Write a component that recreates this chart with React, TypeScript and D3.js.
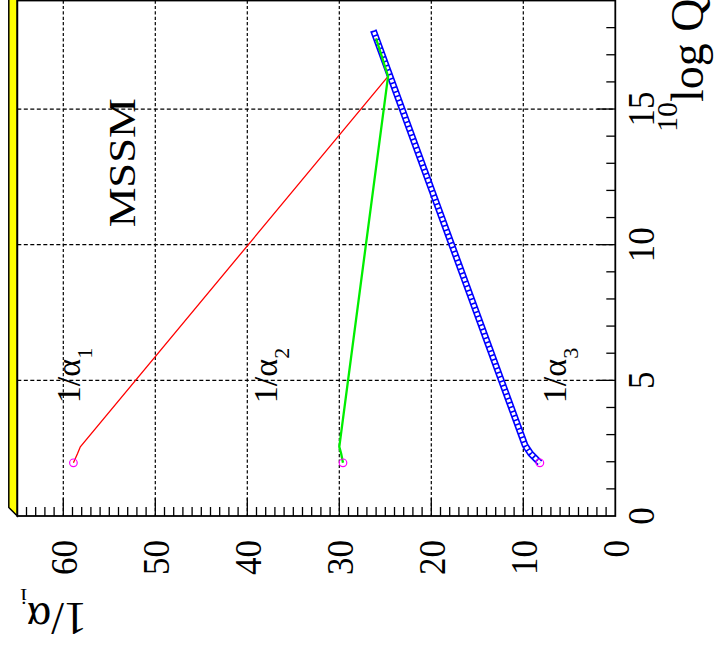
import React from 'react';
import * as d3 from 'd3';

// ---- data ----
const invAlphaTicks = [0, 10, 20, 30, 40, 50, 60];
const logQTicks = [0, 5, 10, 15];
const invAlphaDomain = [0, 65];
const logQDomain = [0, 19];

const mzLogQ = 1.96;
const startValues = [58.9, 29.6, 8.2];

const logQ1 = [1.96, 2.3, 2.55, 16.2, 17.6];
const invAlpha1 = [58.9, 58.45, 58.15, 24.7, 26.0];
const logQ2 = [1.96, 2.3, 2.55, 16.2, 17.6];
const invAlpha2 = [29.6, 29.8, 30.0, 24.7, 26.0];
const logQ3 = [1.96, 2.3, 2.6, 17.9];
const invAlpha3 = [8.2, 9.2, 9.8, 26.3];

const curveLabelSubs = ['1', '2', '3'];
const curveLabelAlpha = [58.2, 36.8, 5.4];
const curveLabelLogQ = 4.16;

const modelLabel = 'MSSM';
const modelLabelAlpha = 52.2;
const modelLabelLogQ = 10.64;

const FONT = "'Liberation Serif', 'DejaVu Serif', 'Times New Roman', serif";

export default function App() {
  const left = 17.3, right = 615.3, top = 0.5, bottom = 516;
  const x = d3.scaleLinear().domain(invAlphaDomain).range([right, left]);
  const y = d3.scaleLinear().domain(logQDomain).range([bottom, top]);

  const line = d3.line<[number, number]>().x(d => x(d[1])).y(d => y(d[0]));
  const p1 = line(logQ1.map((q, i) => [q, invAlpha1[i]]) as [number, number][]) || '';
  const p2 = line(logQ2.map((q, i) => [q, invAlpha2[i]]) as [number, number][]) || '';
  const p3 = line(logQ3.map((q, i) => [q, invAlpha3[i]]) as [number, number][]) || '';

  const minorA = d3.range(invAlphaDomain[0] + 1, invAlphaDomain[1]);
  const minorQ = d3.range(logQDomain[0] + 1, logQDomain[1]);

  const depth = 8.5;
  const panel = [
    [left, bottom],
    [left - depth, bottom - depth],
    [left - depth, top - depth - 5],
    [left, top - 5],
  ].map(p => p.join(',')).join(' ');

  return (
    <svg width={714} height={655} style={{ position: 'absolute', left: 0, top: 0, background: '#fff' }}>
      <rect x={0} y={0} width={714} height={655} fill="#fff" />
      {/* yellow side panel */}
      <polygon points={panel} fill="#ffff00" stroke="#000" strokeWidth={1.5} />

      {/* grid */}
      {invAlphaTicks.filter(v => v > 0).map(v => (
        <line key={'gv' + v} x1={x(v)} x2={x(v)} y1={top} y2={bottom} stroke="#000" strokeWidth={1.2} strokeDasharray="3.2,2.2" />
      ))}
      {logQTicks.filter(v => v > 0).map(v => (
        <line key={'gh' + v} x1={left} x2={right} y1={y(v)} y2={y(v)} stroke="#000" strokeWidth={1.2} strokeDasharray="4,2.5" />
      ))}

      {/* ticks */}
      {minorA.map(v => {
        const major = v % 10 === 0;
        return <line key={'ta' + v} x1={x(v)} x2={x(v)} y1={bottom} y2={bottom - (major ? 18 : 9)} stroke="#000" strokeWidth={1.3} />;
      })}
      {minorQ.map(v => {
        const major = v % 5 === 0;
        return <line key={'tq' + v} x1={right} x2={right - (major ? 18 : 9)} y1={y(v)} y2={y(v)} stroke="#000" strokeWidth={1.3} />;
      })}

      {/* frame */}
      <rect x={left} y={top} width={right - left} height={bottom - top} fill="none" stroke="#000" strokeWidth={1.8} />

      {/* alpha_3 band */}
      <path d={p3} fill="none" stroke="#0000ff" strokeWidth={6.8} strokeLinejoin="round" />
      <path d={p3} fill="none" stroke="#fff" strokeWidth={3.6} strokeDasharray="3,1.6" strokeLinejoin="round" />

      {/* alpha_1, alpha_2 */}
      <path d={p1} fill="none" stroke="#ff0000" strokeWidth={1.3} />
      <path d={p2} fill="none" stroke="#00ee00" strokeWidth={2.3} />

      {/* start points */}
      {startValues.map((v, i) => (
        <circle key={'c' + i} cx={x(v)} cy={y(mzLogQ)} r={3.8} fill="none" stroke="#ff00ff" strokeWidth={1.2} />
      ))}

      {/* curve labels */}
      {curveLabelSubs.map((s, i) => (
        <text key={'cl' + i} transform={`translate(${x(curveLabelAlpha[i])},${y(curveLabelLogQ)}) rotate(-90)`}
          fontFamily={FONT} fontSize={34} fill="#000">
          1/α<tspan dy={12} fontSize={22}>{s}</tspan>
        </text>
      ))}

      {/* model label */}
      <text transform={`translate(${x(modelLabelAlpha)},${y(modelLabelLogQ)}) rotate(-90)`}
        fontFamily={FONT} fontSize={38} textLength={129} lengthAdjust="spacingAndGlyphs" fill="#000">
        {modelLabel}
      </text>

      {/* bottom tick labels (1/alpha) */}
      {invAlphaTicks.map(v => (
        <text key={'la' + v} transform={`translate(${x(v)},540) rotate(-90) scale(0.92,1)`}
          textAnchor="end" dy="0.35em" fontFamily={FONT} fontSize={38} fill="#000">{v}</text>
      ))}
      {/* right tick labels (log Q) */}
      {logQTicks.map(v => (
        <text key={'lq' + v} transform={`translate(654,${y(v)}) rotate(-90) scale(0.92,1)`}
          textAnchor="middle" fontFamily={FONT} fontSize={38} fill="#000">{v}</text>
      ))}

      {/* axis titles */}
      <text transform="translate(87,603) rotate(180)" fontFamily={FONT} fontSize={46} fill="#000">
        1/α<tspan dy={14} fontSize={24}>i</tspan>
      </text>
      <text transform="translate(703,132) rotate(-90)" fontFamily={FONT} fontSize={46} fill="#000">
        <tspan fontSize={30} dy={-26}>10</tspan><tspan dy={26}>log Q</tspan>
      </text>
    </svg>
  );
}
